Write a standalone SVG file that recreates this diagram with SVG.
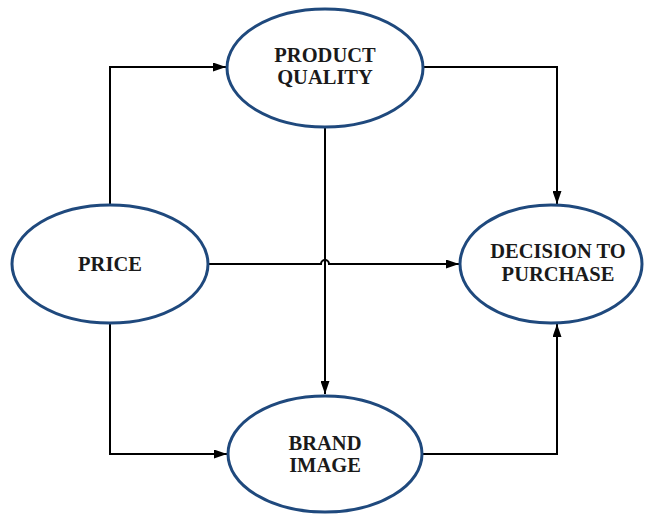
<svg xmlns="http://www.w3.org/2000/svg" width="646" height="516" viewBox="0 0 646 516">
  <style>
    .node ellipse { fill: #ffffff; stroke: #1F497D; stroke-width: 3; }
    .node text { font-family: "Liberation Serif", "Times New Roman", serif; font-weight: bold; font-size: 20.5px; fill: #1a1a1a; text-anchor: middle; }
    .edge { fill: none; stroke: #000000; stroke-width: 2; marker-end: url(#arrow); }
  </style>
  <defs>
    <marker id="arrow" viewBox="0 0 13 9" refX="13" refY="4.5" markerWidth="13" markerHeight="9" markerUnits="userSpaceOnUse" orient="auto">
      <path d="M0,0 L13,4.5 L0,9 Z" fill="#000000"/>
    </marker>
  </defs>
  <rect width="646" height="516" fill="#ffffff"/>

  <g id="connectors">
    <!-- Price -> Product Quality -->
    <path class="edge" d="M110,205 V67 H226"/>
    <!-- Price -> Brand Image -->
    <path class="edge" d="M110,323 V454 H227"/>
    <!-- Price -> Decision to Purchase (hops over the vertical line) -->
    <path class="edge" d="M208,264 H321 A4,4 0 0 1 329,264 H459"/>
    <!-- Product Quality -> Brand Image -->
    <path class="edge" d="M325,126 V394"/>
    <!-- Product Quality -> Decision to Purchase -->
    <path class="edge" d="M424,67 H557 V204"/>
    <!-- Brand Image -> Decision to Purchase -->
    <path class="edge" d="M423,454 H557 V324"/>
  </g>

  <g id="product-quality" class="node">
    <ellipse cx="325" cy="68" rx="98" ry="59"/>
    <text x="325" y="62">PRODUCT</text>
    <text x="325" y="84">QUALITY</text>
  </g>

  <g id="price" class="node">
    <ellipse cx="110" cy="264" rx="98" ry="59"/>
    <text x="110" y="271">PRICE</text>
  </g>

  <g id="decision-to-purchase" class="node">
    <ellipse cx="551" cy="264" rx="91" ry="59"/>
    <text x="558" y="258">DECISION TO</text>
    <text x="558" y="281">PURCHASE</text>
  </g>

  <g id="brand-image" class="node">
    <ellipse cx="325" cy="454" rx="97" ry="58"/>
    <text x="325" y="450">BRAND</text>
    <text x="325" y="472">IMAGE</text>
  </g>
</svg>
